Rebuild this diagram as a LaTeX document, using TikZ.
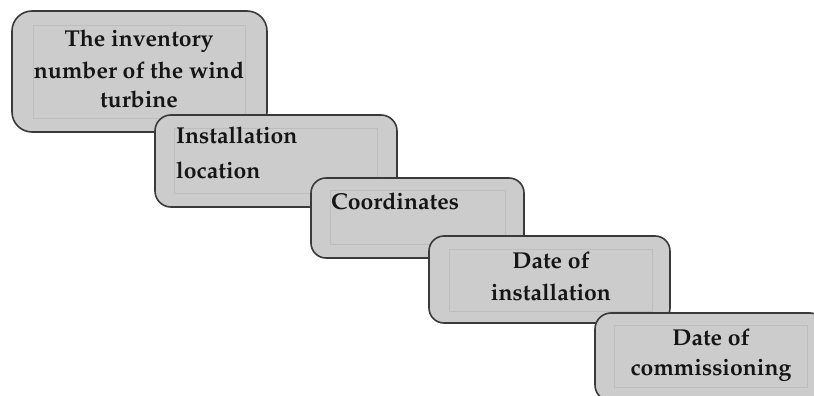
\documentclass[tikz,border=0pt]{standalone}
\usepackage[T1]{fontenc}
\usepackage{mathpazo}
\definecolor{boxfill}{HTML}{CCCCCC}
\definecolor{boxline}{HTML}{3A3A3A}
\definecolor{innerline}{HTML}{BDBDBD}
\definecolor{txt}{HTML}{151515}
\tikzset{
  outerbox/.style={draw=boxline, line width=1.6pt, fill=boxfill},
  innerbox/.style={draw=innerline, line width=0.5pt, fill=boxfill},
  lbl/.style={anchor=base, inner sep=0pt, text=txt, font=\fontsize{23}{28}\selectfont\bfseries},
  lbll/.style={anchor=base west, inner sep=0pt, text=txt, font=\fontsize{23}{28}\selectfont\bfseries}
}
\begin{document}
\begin{tikzpicture}[x=1pt,y=-1pt]
\useasboundingbox (0,0) rectangle (814,396);
\clip (0,0) rectangle (814,396);
% box 1
\draw[outerbox, rounded corners=20pt] (12,11) rectangle (267,132);
\draw[innerbox] (33,25) rectangle (245,118);
\node[lbl] (t1a) at (139,47) {The inventory};
\node[lbl] (t1b) at (139,78) {number of the wind};
\node[lbl] (t1c) at (139,107) {turbine};
% box 2
\draw[outerbox, rounded corners=16pt] (155,115) rectangle (397,207);
\draw[innerbox] (174,128) rectangle (377,193);
\node[lbll] (t2a) at (176,143) {Installation};
\node[lbll] (t2b) at (176,178) {location};
% box 3
\draw[outerbox, rounded corners=15pt] (311,178) rectangle (524,258);
\draw[innerbox] (330,190) rectangle (505,244);
\node[lbll] (t3a) at (331,209) {Coordinates};
% box 4
\draw[outerbox, rounded corners=15pt] (429,236) rectangle (670,323);
\draw[innerbox] (449,249) rectangle (652,311);
\node[lbl] (t4a) at (551,268) {Date of};
\node[lbl] (t4b) at (551,300) {installation};
% box 5
\draw[outerbox, rounded corners=16pt] (595,313) rectangle (826,401);
\draw[innerbox] (614,325) rectangle (807,387);
\node[lbl] (t5a) at (711,345) {Date of};
\node[lbl] (t5b) at (711,375) {commissioning};
\end{tikzpicture}
\end{document}
